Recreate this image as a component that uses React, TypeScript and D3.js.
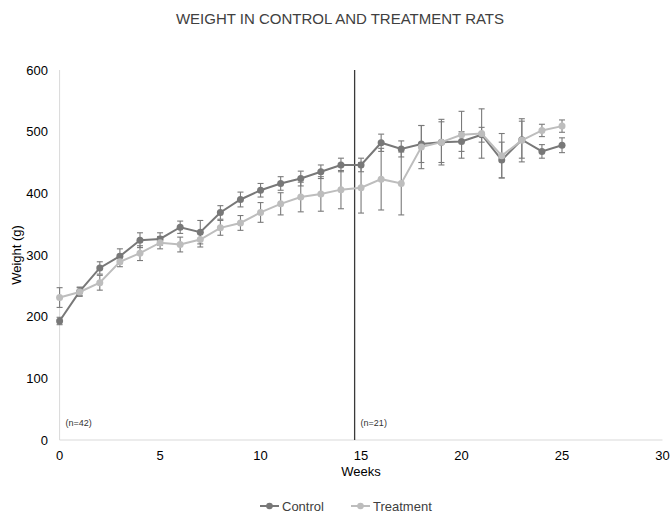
import React from "react";
import * as d3 from "d3";

const weeks = [0, 1, 2, 3, 4, 5, 6, 7, 8, 9, 10, 11, 12, 13, 14, 15, 16, 17, 18, 19, 20, 21, 22, 23, 24, 25];
const controlMean = [193, 241, 279, 298, 324, 326, 345, 337, 369, 390, 405, 416, 424, 435, 446, 446, 482, 472, 480, 483, 484, 495, 454, 487, 468, 478];
const controlErr = [6, 7, 10, 12, 12, 10, 10, 19, 11, 12, 11, 11, 12, 11, 11, 11, 14, 13, 30, 33, 16, 12, 29, 30, 11, 12];
const treatMean = [231, 240, 255, 289, 303, 320, 317, 325, 344, 352, 369, 383, 394, 399, 406, 409, 423, 416, 475, 483, 495, 497, 461, 486, 502, 509];
const treatErr = [16, 7, 12, 8, 12, 10, 12, 12, 12, 12, 16, 18, 24, 28, 31, 41, 50, 51, 35, 37, 38, 40, 36, 35, 10, 10];
const xTicks = [0, 5, 10, 15, 20, 25, 30];
const yTicks = [0, 100, 200, 300, 400, 500, 600];
const dividerWeek = 14.68;
const notes = [
  { week: 0, label: "(n=42)" },
  { week: dividerWeek, label: "(n=21)" },
];
const seriesNames = ["Control", "Treatment"];

const W = 672;
const H = 513;
const FONT = "'Liberation Sans Narrow', 'Liberation Sans', Arial, sans-serif";
const CONTROL_COLOR = "#787878";
const TREAT_COLOR = "#bdbdbd";
const ERR_COLOR = "#7a7a7a";

export default function App() {
  const x = d3.scaleLinear().domain([0, 30]).range([59.6, 662.5]);
  const y = d3.scaleLinear().domain([0, 600]).range([440, 70]);

  const series = [
    { name: seriesNames[0], mean: controlMean, err: controlErr, color: CONTROL_COLOR },
    { name: seriesNames[1], mean: treatMean, err: treatErr, color: TREAT_COLOR },
  ];

  const line = d3
    .line<number>()
    .x((_, i) => x(weeks[i]))
    .y((d) => y(d));

  return (
    <svg
      width={W}
      height={H}
      style={{ position: "absolute", left: 0, top: 0, background: "#fff" }}
      fontFamily={FONT}
    >
      <rect x={0} y={0} width={W} height={H} fill="#fff" />
      <text x={340} y={24} textAnchor="middle" fontSize={15} fill="#404040">
        WEIGHT IN CONTROL AND TREATMENT RATS
      </text>

      {/* axes */}
      <line x1={x(0)} x2={x(0)} y1={y(600)} y2={y(0)} stroke="#d9d9d9" strokeWidth={1} />
      <line x1={x(0)} x2={x(30)} y1={y(0)} y2={y(0)} stroke="#d9d9d9" strokeWidth={1} />

      {yTicks.map((t) => (
        <text key={t} x={48} y={y(t) + 4.5} textAnchor="end" fontSize={13} fill="#000">
          {t}
        </text>
      ))}
      {xTicks.map((t) => (
        <text key={t} x={x(t)} y={460} textAnchor="middle" fontSize={13} fill="#000">
          {t}
        </text>
      ))}
      <text x={x(15)} y={476} textAnchor="middle" fontSize={13} fill="#000">
        Weeks
      </text>
      <text
        transform={`translate(21, ${y(300)}) rotate(-90)`}
        textAnchor="middle"
        fontSize={13}
        fill="#000"
      >
        Weight (g)
      </text>

      {/* divider */}
      <line
        x1={x(dividerWeek)}
        x2={x(dividerWeek)}
        y1={y(600)}
        y2={y(0)}
        stroke="#3a3a3a"
        strokeWidth={1.3}
      />
      {notes.map((n) => (
        <text key={n.label} x={x(n.week) + 6} y={426} fontSize={9} fill="#333">
          {n.label}
        </text>
      ))}

      {/* series */}
      {series.map((s) => (
        <g key={s.name}>
          {s.mean.map((m, i) => {
            const cx = x(weeks[i]);
            const top = y(m + s.err[i]);
            const bot = y(m - s.err[i]);
            return (
              <g key={i} stroke={ERR_COLOR} strokeWidth={1.1}>
                <line x1={cx} x2={cx} y1={top} y2={bot} />
                <line x1={cx - 3} x2={cx + 3} y1={top} y2={top} />
                <line x1={cx - 3} x2={cx + 3} y1={bot} y2={bot} />
              </g>
            );
          })}
        </g>
      ))}
      {series.map((s) => (
        <g key={s.name + "l"}>
          <path d={line(s.mean) || ""} fill="none" stroke={s.color} strokeWidth={2} />
          {s.mean.map((m, i) => (
            <circle key={i} cx={x(weeks[i])} cy={y(m)} r={3.5} fill={s.color} />
          ))}
        </g>
      ))}

      {/* legend */}
      {series.map((s, i) => {
        const lx = i === 0 ? 260 : 351;
        return (
          <g key={s.name + "lg"}>
            <line x1={lx} x2={lx + 19} y1={506} y2={506} stroke={s.color} strokeWidth={2} />
            <circle cx={lx + 9.5} cy={506} r={3.3} fill={s.color} />
            <text x={lx + 22} y={510.5} fontSize={13} fill="#404040">
              {s.name}
            </text>
          </g>
        );
      })}
    </svg>
  );
}
